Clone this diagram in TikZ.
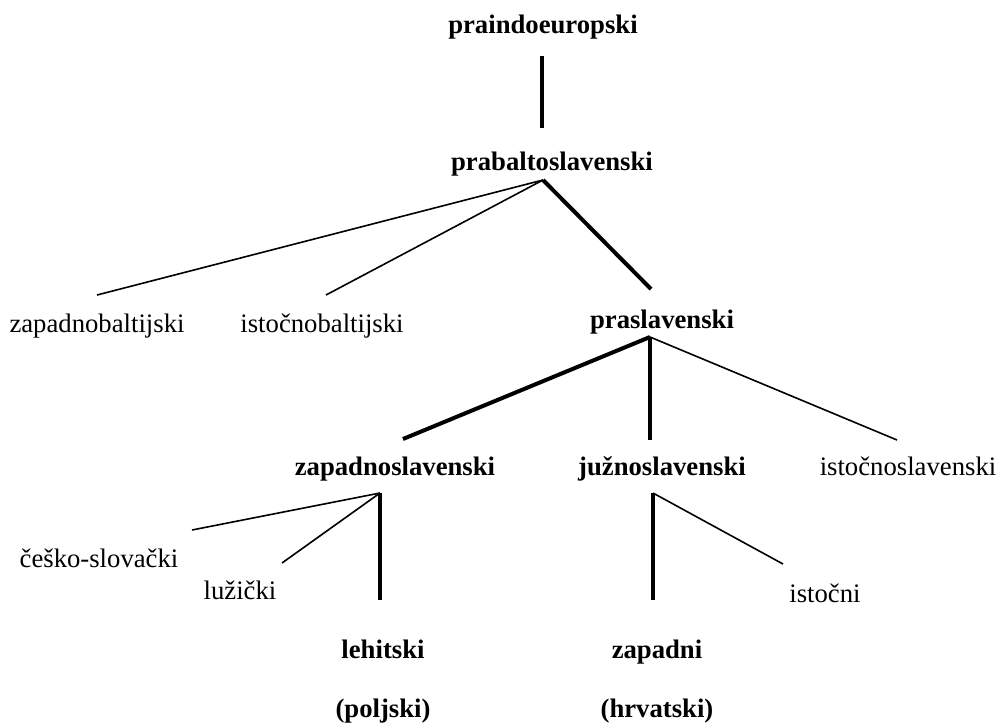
\documentclass[tikz,border=0pt]{standalone}
\usepackage{fontspec}
\setmainfont{Liberation Serif}[Ligatures=TeX]
\newfontfamily\tnr{Liberation Serif}
\begin{document}
\begin{tikzpicture}[x=1pt,y=-1pt,
  lbl/.style={anchor=base,inner sep=0pt,font=\tnr\fontsize{26.7}{32}\selectfont},
  blbl/.style={anchor=base,inner sep=0pt,font=\tnr\fontsize{26.7}{32}\selectfont\bfseries},
  thinbranch/.style={line width=1.6pt},
  mainbranch/.style={line width=4pt}]
\useasboundingbox[fill=white] (0,0) rectangle (1000,724);

% labels
\node[blbl] (pie) at (543,33) {praindoeuropski};
\node[blbl] (pbs) at (552,170) {prabaltoslavenski};
\node[lbl] (zb) at (97,332) {zapadnobaltijski};
\node[lbl] (ib) at (322,332) {istočnobaltijski};
\node[blbl] (ps) at (662,328) {praslavenski};
\node[blbl] (zs) at (395,475) {zapadnoslavenski};
\node[blbl] (js) at (662,475) {južnoslavenski};
\node[lbl] (is) at (908,475) {istočnoslavenski};
\node[lbl] (cs) at (99,567) {češko-slovački};
\node[lbl] (lu) at (240,599) {lužički};
\node[blbl] (le) at (383,658) {lehitski};
\node[blbl] (po) at (383,717) {(poljski)};
\node[blbl] (za) at (657,658) {zapadni};
\node[blbl] (hr) at (657,717) {(hrvatski)};
\node[lbl] (ist) at (825,602) {istočni};

% connector end points
\coordinate (pieB) at (542,56);
\coordinate (pbsT) at (542,128);
\coordinate (pbsB) at (543,180);
\coordinate (zbT) at (97,295);
\coordinate (ibT) at (326,295);
\coordinate (psT) at (651,289);
\coordinate (psB) at (650,337);
\coordinate (zsT) at (403,439);
\coordinate (jsT) at (650,440);
\coordinate (isT) at (897,440);
\coordinate (zsB) at (380,493);
\coordinate (csT) at (192,530);
\coordinate (luT) at (282,563);
\coordinate (leT) at (380,600);
\coordinate (jsB) at (653,493);
\coordinate (zaT) at (653,600);
\coordinate (istT) at (783,564);

% connectors
\draw[mainbranch] (pieB) -- (pbsT);
\draw[thinbranch] (pbsB) -- (zbT);
\draw[thinbranch] (pbsB) -- (ibT);
\draw[mainbranch] (pbsB) -- (psT);
\draw[mainbranch] (psB) -- (zsT);
\draw[mainbranch] (psB) -- (jsT);
\draw[thinbranch] (psB) -- (isT);
\draw[mainbranch] (zsB) -- (leT);
\draw[thinbranch] (zsB) -- (csT);
\draw[thinbranch] (zsB) -- (luT);
\draw[mainbranch] (jsB) -- (zaT);
\draw[thinbranch] (jsB) -- (istT);
\end{tikzpicture}
\end{document}
